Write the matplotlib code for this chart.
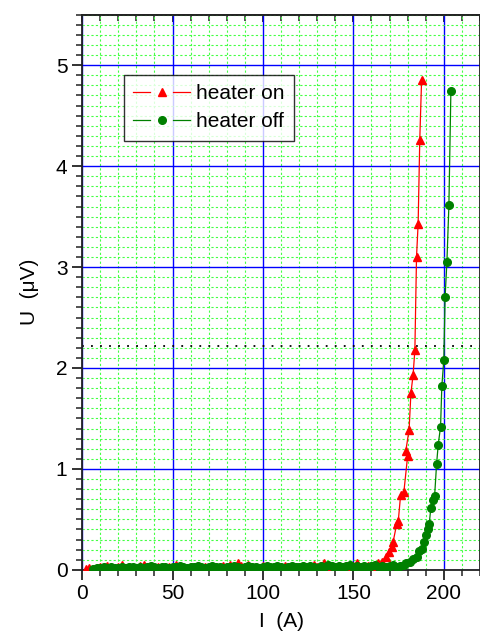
import matplotlib
matplotlib.use("Agg")
import matplotlib.pyplot as plt
from matplotlib.ticker import MultipleLocator, NullFormatter
from matplotlib.lines import Line2D
from matplotlib.legend_handler import HandlerLine2D

plt.rcParams['font.family'] = ['Liberation Sans', 'DejaVu Sans']

# heater on (red triangles)
on_I = [2, 4, 6, 8, 10, 12, 14, 16, 18, 20, 22, 24, 26, 28, 30, 32, 34, 36, 38, 40,
        42, 44, 46, 48, 50, 52, 54, 56, 58, 60, 62, 64, 66, 68, 70, 72, 74, 76, 78, 80,
        82, 84, 86, 88, 90, 92, 94, 96, 98, 100, 102, 104, 106, 108, 110, 112, 114, 116, 118, 120,
        122, 124, 126, 128, 130, 132, 134, 136, 138, 140, 142, 144, 146, 148, 150, 152, 154, 156, 158, 160,
        162, 163.7, 165.6, 168.0, 169.8, 171.1, 172.0, 173.9, 174.8, 176.1, 177.9, 180.0, 179.0, 180.8,
        181.8, 183.0, 184.0, 184.9, 185.8, 186.7, 187.7]
on_U = [0.01, 0.02, 0.01, 0.02, 0.03, 0.02, 0.04, 0.02, 0.01, 0.03, 0.05, 0.02, 0.03, 0.02, 0.01, 0.04, 0.05, 0.02, 0.03, 0.02,
        0.03, 0.01, 0.02, 0.03, 0.02, 0.05, 0.03, 0.02, 0.01, 0.03, 0.02, 0.04, 0.02, 0.03, 0.01, 0.02, 0.03, 0.02, 0.04, 0.03,
        0.05, 0.03, 0.07, 0.04, 0.03, 0.05, 0.02, 0.03, 0.02, 0.04, 0.03, 0.02, 0.03, 0.01, 0.02, 0.04, 0.03, 0.02, 0.03, 0.02,
        0.04, 0.02, 0.03, 0.05, 0.03, 0.04, 0.07, 0.05, 0.03, 0.02, 0.04, 0.03, 0.02, 0.03, 0.04, 0.07, 0.03, 0.02, 0.04, 0.03,
        0.05, 0.066, 0.08, 0.13, 0.18, 0.23, 0.28, 0.45, 0.48, 0.74, 0.77, 1.13, 1.18, 1.39,
        1.75, 1.93, 2.18, 3.10, 3.43, 4.26, 4.85]

# heater off (green circles)
off_I = [6, 8, 10, 12, 14, 16, 18, 20, 22, 24, 26, 28, 30, 32, 34, 36, 38, 40,
         42, 44, 46, 48, 50, 52, 54, 56, 58, 60, 62, 64, 66, 68, 70, 72, 74, 76, 78, 80,
         82, 84, 86, 88, 90, 92, 94, 96, 98, 100, 102, 104, 106, 108, 110, 112, 114, 116, 118, 120,
         122, 124, 126, 128, 130, 132, 134, 136, 138, 140, 142, 144, 146, 148, 150, 152, 154, 156, 158, 160,
         162, 164, 166, 168, 170, 172, 174, 176, 178,
         179.0, 181.2, 183.0, 184.9, 186.4, 187.7, 189.1, 190.0, 191.0, 191.9, 192.8, 194.1, 194.9,
         196.0, 196.9, 198.2, 198.9, 200.0, 200.7, 201.7, 202.8, 203.9]
off_U = [0.01, 0.02, 0.02, 0.03, 0.02, 0.03, 0.02, 0.02, 0.03, 0.02, 0.03, 0.03, 0.02, 0.03, 0.02, 0.03, 0.04, 0.03,
         0.02, 0.03, 0.03, 0.02, 0.03, 0.03, 0.04, 0.03, 0.02, 0.03, 0.03, 0.04, 0.03, 0.02, 0.03, 0.04, 0.03, 0.03, 0.02, 0.03,
         0.03, 0.04, 0.03, 0.02, 0.03, 0.04, 0.03, 0.03, 0.02, 0.03, 0.04, 0.03, 0.03, 0.04, 0.03, 0.02, 0.03, 0.04, 0.03, 0.03,
         0.04, 0.03, 0.04, 0.03, 0.02, 0.04, 0.03, 0.05, 0.04, 0.03, 0.04, 0.03, 0.04, 0.05, 0.03, 0.04, 0.03, 0.04, 0.03, 0.04,
         0.05, 0.03, 0.04, 0.03, 0.04, 0.05, 0.03, 0.04, 0.05,
         0.066, 0.08, 0.11, 0.13, 0.19, 0.21, 0.28, 0.35, 0.40, 0.45, 0.61, 0.69, 0.73,
         1.05, 1.24, 1.42, 1.82, 2.08, 2.70, 3.05, 3.61, 4.74]

ref_level = 2.22


# legend entry drawn like Origin: line - marker - line, with gaps
class GapHandler(HandlerLine2D):
    def create_artists(self, legend, orig_handle, xdescent, ydescent,
                       width, height, fontsize, trans):
        y = height / 2.0 - ydescent
        x0 = -xdescent
        xm = x0 + width / 2.0
        gap = width * 0.2
        col = orig_handle.get_color()
        lw = orig_handle.get_linewidth()
        a = Line2D([x0, xm - gap], [y, y], color=col, lw=lw)
        b = Line2D([xm + gap, x0 + width], [y, y], color=col, lw=lw)
        m = Line2D([xm], [y], linestyle='none', marker=orig_handle.get_marker(),
                   ms=orig_handle.get_markersize(), color=col)
        for art in (a, b, m):
            art.set_transform(trans)
        return [a, b, m]


fig = plt.figure(figsize=(4.8, 6.41), dpi=100)
ax = fig.add_axes([0.171, 0.111, 0.829, 0.866])

l_on, = ax.plot(on_I, on_U, '-', color='red', lw=0.9, marker='^', ms=6, mec='red', mfc='red',
                label='heater on', zorder=3)
l_off, = ax.plot(off_I, off_U, '-', color='green', lw=0.9, marker='o', ms=5.5, mec='green', mfc='green',
                 label='heater off', zorder=4)
ax.axhline(ref_level, color='black', lw=1.3, linestyle=(0, (1, 4)), zorder=2)

ax.set_xlim(0, 220)
ax.set_ylim(0, 5.5)
ax.xaxis.set_major_locator(MultipleLocator(50))
ax.xaxis.set_minor_locator(MultipleLocator(10))
ax.yaxis.set_major_locator(MultipleLocator(1))
ax.yaxis.set_minor_locator(MultipleLocator(0.1))

ax.grid(which='major', color='blue', lw=1, linestyle='-', zorder=1)
ax.grid(which='minor', color='#44ff44', lw=0.8, linestyle=(0, (2, 2)), zorder=1)
ax.set_axisbelow(True)

ax.tick_params(axis='both', which='major', labelsize=15, width=1.3, length=7, direction='out', color='#222222')
ax.tick_params(axis='both', which='minor', width=1.1, length=4, direction='out', color='#222222')
for spine in ax.spines.values():
    spine.set_linewidth(1.3)
    spine.set_color('#222222')

# top axis: inward ticks, no labels
top = ax.secondary_xaxis('top')
top.xaxis.set_major_locator(MultipleLocator(50))
top.xaxis.set_minor_locator(MultipleLocator(10))
top.xaxis.set_major_formatter(NullFormatter())
top.tick_params(which='major', direction='in', length=5, width=1.3, color='#222222')
top.tick_params(which='minor', direction='in', length=4, width=1.1, color='#222222')
top.spines['top'].set_linewidth(1.3)
top.spines['top'].set_color('#222222')

ax.set_xlabel('I  (A)', fontsize=15, labelpad=6)
ax.set_ylabel('U  (μV)', fontsize=15, labelpad=12)

leg = ax.legend(handles=[l_on, l_off], loc='upper left', bbox_to_anchor=(0.1055, 0.892), borderaxespad=0,
                fontsize=15, frameon=True, fancybox=False, edgecolor='black',
                handlelength=2.7, handletextpad=0.3, borderpad=0.45, labelspacing=0.45,
                handler_map={Line2D: GapHandler()})
leg.get_frame().set_linewidth(1.0)

fig.savefig('out.png', dpi=100)
